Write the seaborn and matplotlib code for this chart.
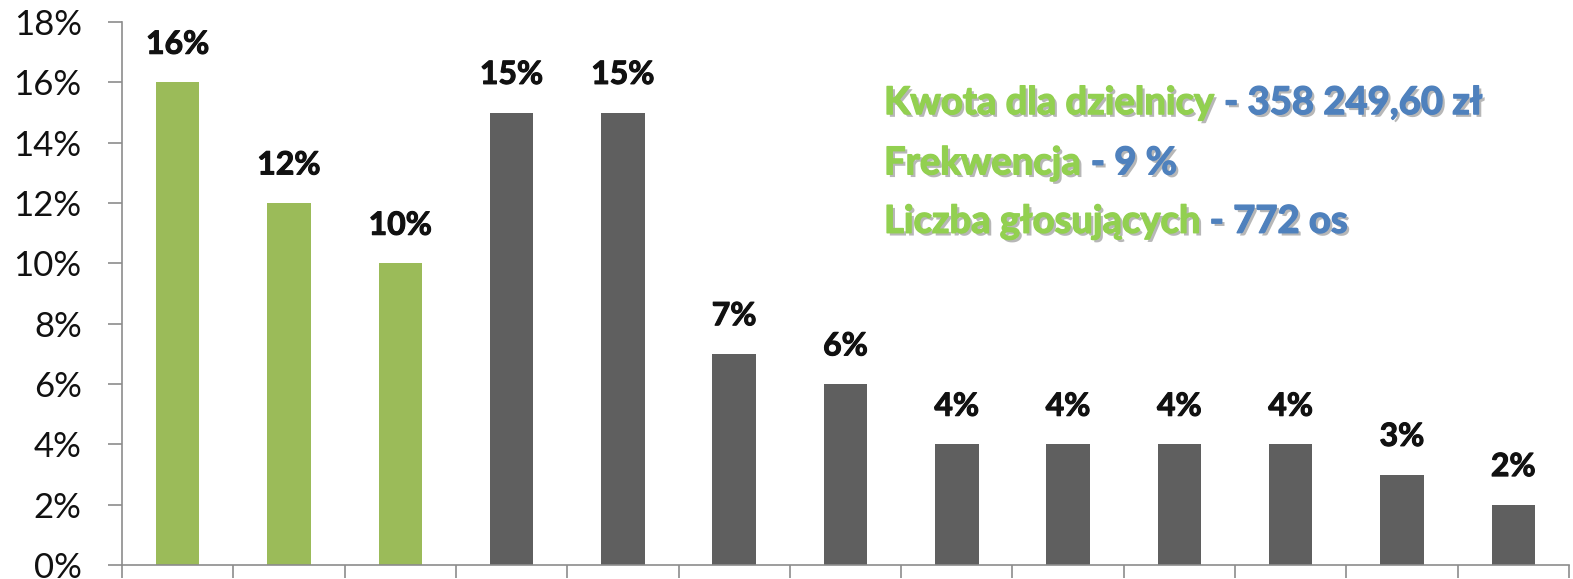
import matplotlib
matplotlib.use("Agg")
import matplotlib.pyplot as plt
import matplotlib.patheffects as pe
from matplotlib.ticker import FixedLocator, FuncFormatter
import seaborn as sns

# dane
projects = ["P1", "P2", "P3", "P4", "P5", "P6", "P7", "P8", "P9", "P10", "P11", "P12", "P13"]
shares = [16, 12, 10, 15, 15, 7, 6, 4, 4, 4, 4, 3, 2]
winners = [True, True, True] + [False] * 10
y_ticks = [0, 2, 4, 6, 8, 10, 12, 14, 16, 18]

info_labels = ["Kwota dla dzielnicy", "Frekwencja", "Liczba głosujących"]
info_values = [" - 358 249,60 zł", " - 9 %", " - 772 os"]

GREEN = "#9BBB59"
GRAY = "#5F5F5F"
TXT_GREEN = "#92D050"
TXT_BLUE = "#4F81BD"

sns.set_style("white")
plt.rcParams["font.family"] = ["Lato", "DejaVu Sans"]

fig = plt.figure(figsize=(15.73, 5.79), dpi=100)
ax = fig.add_axes([122 / 1573, 1 - 565 / 579, (1569 - 122) / 1573, (565 - 22) / 579])

palette = {p: (GREEN if w else GRAY) for p, w in zip(projects, winners)}
sns.barplot(x=projects, y=shares, hue=projects, palette=palette, legend=False,
            dodge=False, width=0.39, saturation=1, ax=ax, linewidth=0)

bold_lbl = [pe.Stroke(linewidth=0.8, foreground="#111111"), pe.Normal()]
for cont in ax.containers:
    ax.bar_label(cont, fmt="%d%%", padding=17, fontsize=23, fontweight="bold", color="#111111",
                 path_effects=bold_lbl)

ax.set_xlim(-0.5, len(projects) - 0.5)
ax.set_ylim(0, 18)
ax.yaxis.set_major_locator(FixedLocator(y_ticks))
ax.yaxis.set_major_formatter(FuncFormatter(lambda v, _: f"{int(v)}%"))
ax.tick_params(axis="y", which="major", direction="out", length=10, width=1.2,
               color="#8C8C8C", labelsize=25, pad=19, labelcolor="#111111", left=True)

ax.set_xticks([])
ax.xaxis.set_minor_locator(FixedLocator([i - 0.5 for i in range(len(projects) + 1)]))
ax.tick_params(axis="x", which="minor", direction="out", length=9, width=1.2,
               color="#8C8C8C", bottom=True, labelbottom=False)
ax.set_xlabel("")
ax.set_ylabel("")

for side in ["top", "right"]:
    ax.spines[side].set_visible(False)
for side in ["left", "bottom"]:
    ax.spines[side].set_color("#8C8C8C")
    ax.spines[side].set_linewidth(1.2)


def shadow(col):
    return [pe.SimplePatchShadow(offset=(2, -2), shadow_rgbFace="#888888", alpha=0.6),
            pe.Stroke(linewidth=1.0, foreground=col), pe.Normal()]


line_y = [0.822, 0.718, 0.617]
for lbl, val, yy in zip(info_labels, info_values, line_y):
    t1 = ax.text(884 / 1573, yy, lbl, transform=fig.transFigure, fontsize=27.5, fontweight="bold",
                 color=TXT_GREEN, va="center", ha="left", path_effects=shadow(TXT_GREEN))
    ax.annotate(val, xy=(1, 0), xycoords=t1, xytext=(0, 0), textcoords="offset points",
                fontsize=27.5, fontweight="bold", color=TXT_BLUE, va="bottom", ha="left",
                path_effects=shadow(TXT_BLUE), annotation_clip=False)

fig.savefig("out.png", dpi=100)
